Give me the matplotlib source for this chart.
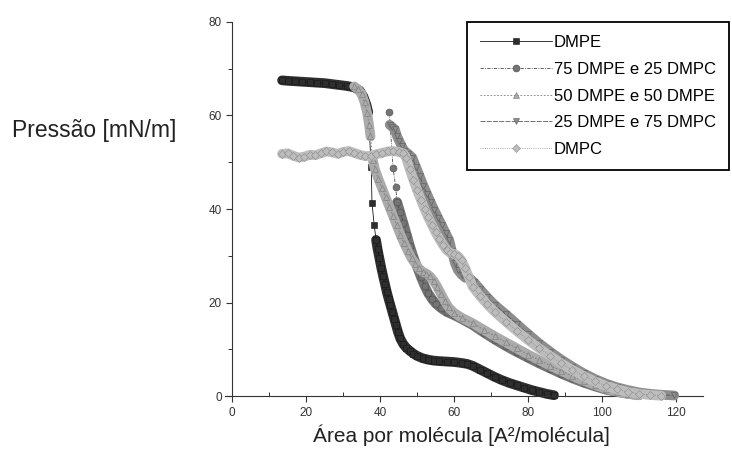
import numpy as np
import matplotlib

matplotlib.use("Agg")
import matplotlib.pyplot as plt
from matplotlib.ticker import MultipleLocator

plt.rcParams["font.family"] = ["Liberation Sans", "DejaVu Sans"]

labels = ["DMPE", "75 DMPE e 25 DMPC", "50 DMPE e 50 DMPE", "25 DMPE e 75 DMPC", "DMPC"]

dmpe_x = [13.5, 15, 17, 19, 21, 23, 25, 27, 29, 31, 33, 34.5, 35.5, 36.3, 36.8,
          37.6, 37.8, 38.4, 38.9, 39.3, 39.8, 40.3, 40.8, 41.3, 41.8, 42.3, 42.8, 43.3,
          43.8, 44.3, 44.8, 45.4, 46.2, 47, 48, 49, 50, 51.5, 53, 54.5, 56, 58, 60, 62,
          63.5, 65, 67, 69, 71, 73, 75, 77, 79, 81, 83, 85, 87]
dmpe_y = [67.5, 67.4, 67.3, 67.2, 67.1, 67.0, 66.9, 66.7, 66.5, 66.3, 66.0, 65.3, 64.0, 62.3, 60.7,
          49.0, 41.3, 36.6, 33.4, 31.5, 29.5, 27.5, 25.7, 24.0, 22.3, 20.8, 19.4, 18.0,
          16.6, 15.2, 13.8, 12.4, 11.2, 10.4, 9.7, 9.1, 8.6, 8.1, 7.8, 7.6, 7.5, 7.4, 7.3, 7.1,
          6.9, 6.5, 5.7, 4.9, 4.1, 3.4, 2.8, 2.3, 1.8, 1.3, 0.9, 0.5, 0.2]

mix75_x = [42.5, 43.5, 44.2, 44.6, 45.4, 46.3, 47.2, 48.1, 49.0, 50.0, 51.0, 52.0, 53.0,
           54.0, 55.0, 56.5, 58.0, 60.0, 62.0, 65, 68, 71, 74, 77, 80, 83, 86, 89, 92,
           95, 98, 101, 104, 107, 110]
mix75_y = [60.7, 48.8, 44.7, 41.5, 39.4, 37.0, 34.5, 32.0, 29.8, 27.6, 25.5, 23.6, 22.0,
           20.8, 19.8, 18.8, 18.0, 17.3, 16.5, 15.2, 13.6, 12.1, 10.7, 9.4, 8.2, 7.0, 5.9, 4.8, 3.8,
           2.9, 2.1, 1.4, 0.9, 0.5, 0.2]

mix50_x = [33, 34, 35, 35.8, 36.5, 37.0, 37.4, 38.0, 38.6, 39.5, 40.5, 41.5, 42.5, 43.5,
           44.5, 45.5, 46.5, 47.5, 48.5, 49.5, 50.5, 51.5, 52.5, 53.5, 54.5, 55.5, 56.5,
           57.5, 58.5, 60, 62, 65, 68, 71, 74, 77, 80, 83, 86, 89, 92, 95, 98, 101, 104,
           107, 110]
mix50_y = [66.2, 65.6, 64.6, 62.8, 60.5, 58.0, 55.5, 50.5, 48.5, 46.5, 44.5, 42.5, 40.5, 38.5,
           36.5, 34.5, 32.7, 31.0, 29.5, 28.3, 27.3, 26.6, 26.2, 25.6, 24.6, 23.3, 21.8,
           20.3, 19.0, 17.8, 16.8, 15.6, 14.2, 12.8, 11.5, 10.2, 8.9, 7.7, 6.5, 5.4, 4.3, 3.3, 2.4, 1.6, 1.0,
           0.5, 0.2]

mix25_x = [42.6, 43.3, 44.0, 44.6, 45.2, 45.8, 46.5, 47.6, 48.7, 49.7, 50.7, 51.7, 52.7,
           53.7, 54.7, 55.7, 56.7, 57.7, 58.7, 59.4, 60.2, 61, 62, 63, 64, 65.5, 67, 69, 71,
           74, 77, 80, 83, 86, 89, 92, 95, 98, 101, 104, 107, 110, 113, 116, 119.5]
mix25_y = [58.0, 57.5, 57.0, 55.5, 54.5, 53.5, 52.5, 51.8, 51.0, 49.0, 47.0, 45.0, 43.2,
           41.4, 39.7, 38.1, 36.5, 34.9, 33.3, 31.0, 28.5, 27.0, 26.0, 25.3, 25.4, 24.3, 22.9,
           21.1, 19.5, 17.5, 15.4, 13.3, 11.3, 9.5, 7.8, 6.3, 4.9, 3.7, 2.7, 1.9, 1.3, 0.8, 0.5,
           0.3, 0.15]

dmpc_x = [13.5, 15, 16.5, 18, 19.5, 21, 22.5, 24, 25.5, 27, 28.5, 30, 31.5, 33, 34.5, 36,
          37.5, 39, 40.5, 42, 43.5, 45, 46.3, 47, 48, 49, 50, 51, 52, 53, 54, 55, 56, 57, 58,
          59, 60, 61, 62, 63, 64, 65, 67, 69, 71, 74, 77, 80, 83, 86, 89, 92, 95, 98, 101,
          104, 107, 110, 113, 116]
dmpc_y = [51.8, 51.9, 51.4, 51.0, 51.2, 51.6, 51.5, 51.9, 52.3, 52.1, 51.8, 52.2, 52.4, 52.0,
          51.6, 51.3, 51.4, 51.7, 52.0, 52.3, 52.4, 52.2, 51.9, 51.0, 48.5, 46.2, 44.0, 42.0,
          40.0, 38.2, 36.6, 35.0, 33.6, 32.3, 31.2, 30.6, 30.4, 30.0, 29.0, 27.4, 25.4, 23.4,
          21.4, 19.6, 18.0, 15.9, 13.9, 12.0, 10.2, 8.6, 7.0, 5.6, 4.3, 3.2, 2.2, 1.5, 0.9, 0.5,
          0.25, 0.1]

series = [
    (dmpe_x, dmpe_y, "#2e2e2e", "#161616", "s", "-"),
    (mix75_x, mix75_y, "#747474", "#4a4a4a", "o", (0, (4, 1.5, 1, 1.5))),
    (mix50_x, mix50_y, "#ababab", "#7a7a7a", "^", (0, (2, 2))),
    (mix25_x, mix25_y, "#8c8c8c", "#5a5a5a", "v", (0, (6, 1.5))),
    (dmpc_x, dmpc_y, "#bdbdbd", "#8c8c8c", "D", ":"),
]

fig = plt.figure(figsize=(7.32, 4.65), dpi=100)
ax = fig.add_axes([0.307, 0.148, 0.6535, 0.805])
ax.set_xlim(-2, 127.3)
ax.set_ylim(0, 80)


def band(x, y):
    # thick band along the continuous parts, broken at the big vertical jumps (collapse)
    pts = ax.transData.transform(np.column_stack([x, y]))
    gaps = np.abs(np.diff(pts[:, 1])) > 12
    bx, by = [x[0]], [y[0]]
    for i in range(1, len(x)):
        if gaps[i - 1]:
            bx.append(np.nan)
            by.append(np.nan)
        bx.append(x[i])
        by.append(y[i])
    return bx, by


for i, (x, y, color, edge, marker, ls) in enumerate(series):
    bx, by = band(x, y)
    ax.plot(bx, by, color=color, lw=7, solid_capstyle="round", solid_joinstyle="round",
            zorder=2 + i, clip_on=False)
    ax.plot(x, y, ls=ls, lw=0.6, color=edge, marker=marker, ms=5 if marker != "D" else 4.5,
            mfc=color, mec=edge, mew=0.4, label=labels[i], zorder=2 + i, clip_on=False)

ax.spines["top"].set_visible(False)
ax.spines["right"].set_visible(False)
ax.spines["left"].set_position(("data", 0))
for side in ("left", "bottom"):
    ax.spines[side].set_linewidth(0.8)
    ax.spines[side].set_color("#333333")

ax.xaxis.set_major_locator(MultipleLocator(20))
ax.xaxis.set_minor_locator(MultipleLocator(10))
ax.yaxis.set_major_locator(MultipleLocator(20))
ax.yaxis.set_minor_locator(MultipleLocator(10))
ax.tick_params(which="major", direction="out", length=4, width=0.8, labelsize=8.5,
               colors="#333333")
ax.tick_params(axis="x", which="minor", direction="in", length=3, width=0.7, colors="#333333")
ax.tick_params(axis="y", which="minor", direction="out", length=3, width=0.7, colors="#333333")

leg = ax.legend(loc="upper left", bbox_to_anchor=(467 / 732, 1 - 22 / 465),
                bbox_transform=fig.transFigure, fancybox=False, edgecolor="black",
                fontsize=12, handlelength=4.3, handletextpad=0.1, labelspacing=0.7,
                borderpad=0.8, borderaxespad=0, numpoints=1, framealpha=1)
leg.get_frame().set_linewidth(1.3)
leg.set_zorder(20)

fig.text(12 / 732, 1 - 131 / 465, "Pressão [mN/m]", fontsize=16.5, ha="left", va="center",
         color="#222222")
fig.text(461 / 732, 1 - 435 / 465, "Área por molécula [A²/molécula]", fontsize=15,
         ha="center", va="center", color="#222222")

fig.savefig("out.png", dpi=100)
plt.close(fig)
